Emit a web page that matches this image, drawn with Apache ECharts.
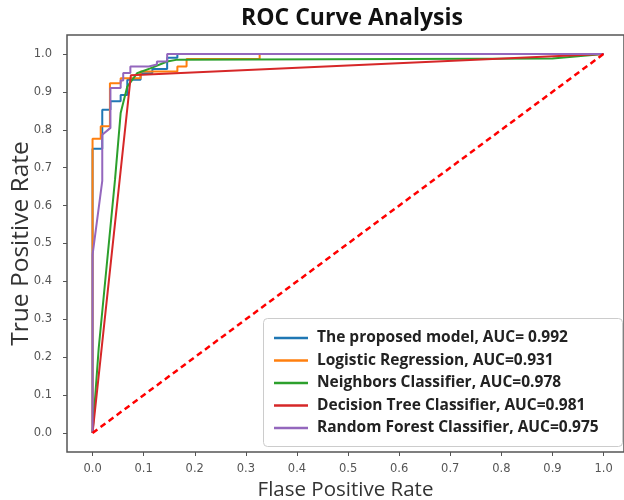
<!DOCTYPE html>
<html>
<head>
<meta charset="UTF-8">
<title>ROC Curve Analysis</title>
<script src="https://cdn.jsdelivr.net/npm/echarts@6/dist/echarts.min.js"></script>
<style>
  html, body { margin: 0; padding: 0; background: #fff; }
  #main { width: 624px; height: 500px; }
</style>
</head>
<body>
<div id="main"></div>
<script>
// [fpr, tpr] points
var proposedModel = [[0,0],[0,0.75],[0.019,0.75],[0.019,0.853],[0.035,0.853],[0.035,0.875],[0.055,0.875],[0.055,0.892],[0.068,0.892],[0.068,0.932],[0.094,0.932],[0.094,0.949],[0.117,0.949],[0.117,0.96],[0.146,0.96],[0.146,0.99],[0.166,0.99],[0.166,1.0],[1,1]];
var logisticRegression = [[0,0],[0,0.776],[0.016,0.776],[0.016,0.809],[0.034,0.809],[0.034,0.923],[0.055,0.923],[0.055,0.936],[0.094,0.936],[0.094,0.954],[0.166,0.954],[0.166,0.967],[0.184,0.967],[0.184,0.987],[0.327,0.987],[0.327,1.0],[1,1]];
var neighborsClassifier = [[0,0],[0.012,0.223],[0.044,0.669],[0.055,0.844],[0.068,0.914],[0.087,0.949],[0.113,0.962],[0.146,0.98],[0.166,0.985],[0.9,0.988],[1,1]];
var decisionTree = [[0,0],[0.075,0.944],[1,1]];
var randomForest = [[0,0],[0,0.47],[0.019,0.665],[0.019,0.787],[0.035,0.805],[0.035,0.91],[0.055,0.91],[0.055,0.93],[0.06,0.93],[0.06,0.95],[0.074,0.95],[0.074,0.967],[0.11,0.967],[0.11,0.972],[0.126,0.972],[0.126,0.98],[0.146,0.98],[0.146,1.0],[1,1]];
var chanceLine = [[0,0],[1,1]];

var seriesNames = ['The proposed model, AUC= 0.992', 'Logistic Regression, AUC=0.931', 'Neighbors Classifier, AUC=0.978', 'Decision Tree Classifier, AUC=0.981', 'Random Forest Classifier, AUC=0.975'];
var seriesData = [proposedModel, logisticRegression, neighborsClassifier, decisionTree, randomForest];
var colors = ['#1f77b4', '#ff7f0e', '#2ca02c', '#d62728', '#9467bd'];
var tickValues = [0, 0.1, 0.2, 0.3, 0.4, 0.5, 0.6, 0.7, 0.8, 0.9, 1.0];

var myChart = echarts.init(document.getElementById('main'));

var series = seriesNames.map(function (name, i) {
    return {
        name: name,
        type: 'line',
        data: seriesData[i],
        symbol: 'none',
        color: colors[i],
        lineStyle: { width: 2, color: colors[i] },
        z: 2 + i
    };
});
series.push({
    name: 'chance',
    type: 'line',
    data: chanceLine,
    symbol: 'none',
    lineStyle: { width: 2.5, color: '#ff0000', type: [6, 4] },
    z: 10
});

function tickLabel(margin) {
    return {
        customValues: tickValues,
        margin: margin,
        color: '#555',
        fontSize: 11.5,
        fontFamily: 'DejaVu Sans',
        formatter: function (v) { return v.toFixed(1); }
    };
}

var option = {
    animation: false,
    title: {
        text: 'ROC Curve Analysis',
        left: 347,
        textAlign: 'center',
        top: 2,
        textStyle: { fontSize: 23, fontWeight: 'bold', color: '#111', fontFamily: 'Open Sans' }
    },
    grid: {
        left: 67, top: 35, right: 0, bottom: 48,
        outerBoundsMode: 'none',
        containLabel: false,
        show: true, borderColor: '#555', borderWidth: 1.5, backgroundColor: '#fff'
    },
    legend: {
        data: seriesNames,
        orient: 'vertical',
        left: 269,
        top: 325,
        icon: 'rect',
        itemWidth: 34,
        itemHeight: 2.5,
        itemGap: 6.5,
        textStyle: { fontSize: 15.5, fontWeight: 'bold', color: '#222', fontFamily: 'Open Sans', padding: [0, 0, 0, 4] }
    },
    graphic: [{
        type: 'rect',
        left: 263, top: 318, z: 3,
        shape: { width: 359, height: 128, r: 4 },
        style: { fill: 'rgba(255,255,255,0.9)', stroke: '#ccc', lineWidth: 1 }
    }],
    xAxis: {
        type: 'value',
        min: -0.05,
        max: 1.04,
        name: 'Flase Positive Rate',
        nameLocation: 'middle',
        nameGap: 23,
        nameTextStyle: { fontSize: 20.5, color: '#333', fontFamily: 'Open Sans' },
        axisLine: { show: false, onZero: false },
        axisTick: { show: true, customValues: tickValues, length: 4, lineStyle: { color: '#555' } },
        axisLabel: tickLabel(11),
        splitLine: { show: false }
    },
    yAxis: {
        type: 'value',
        min: -0.05,
        max: 1.05,
        name: 'True Positive Rate',
        nameLocation: 'middle',
        nameGap: 33,
        nameMoveOverlap: false,
        nameTextStyle: { fontSize: 24.5, color: '#333', fontFamily: 'Open Sans' },
        axisLine: { show: false, onZero: false },
        axisTick: { show: true, customValues: tickValues, length: 4, lineStyle: { color: '#555' } },
        axisLabel: tickLabel(15),
        splitLine: { show: false }
    },
    series: series
};
myChart.setOption(option);
</script>
</body>
</html>
